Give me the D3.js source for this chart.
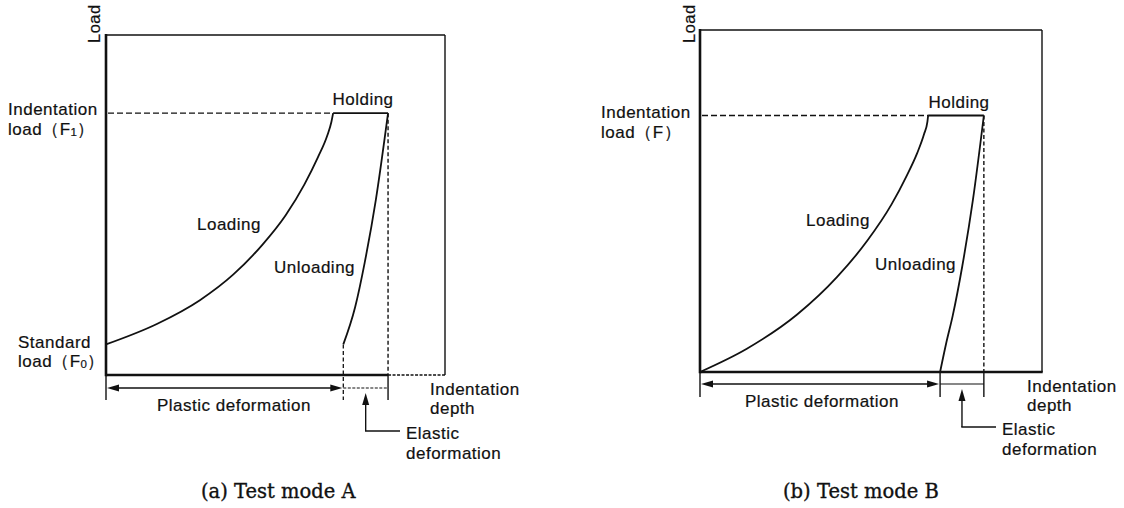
<!DOCTYPE html>
<html>
<head>
<meta charset="utf-8">
<script src="https://cdn.jsdelivr.net/npm/d3@7"></script>
<style>
  html, body { margin: 0; padding: 0; background: #fff; }
  svg { display: block; }
  text { font-family: "Liberation Sans", Arial, Helvetica, sans-serif; fill: #111; }
  .lbl { letter-spacing: 0.5px; stroke: #111; stroke-width: 0.2px; }
  .title { font-family: "DejaVu Serif", "Liberation Serif", serif; stroke: #111; stroke-width: 0.35px; }
</style>
</head>
<body>
<svg id="chart" width="1124" height="508"></svg>
<script>
// Load–depth curves for the two indentation test modes (depth, load), schematic units 0–100
const depthDomain = [0, 100];
const loadDomain = [0, 100];

// Test mode A: starts from a standard (pre-)load F0
const loadingA = [[0, 9], [15, 15], [27.7, 22], [37.5, 29.5], [46.3, 38.5], [53, 47],
                  [58.5, 56], [62.5, 64], [65.3, 70.5], [66.5, 74.5], [67, 77]];
const unloadingA = [[83.2, 77], [79.6, 51.5], [76.3, 33], [73.5, 20], [70, 9]];

// Test mode B: starts from zero load
const loadingB = [[0, 0], [13.7, 6.8], [28.4, 16.8], [40.1, 27.8], [49, 38.5], [56, 49],
                  [60.5, 57.5], [63.5, 64], [65.5, 69.5], [66.5, 73.2], [66.7, 75]];
const unloadingB = [[83, 75], [79.8, 50.3], [76.7, 31], [73.9, 16.5], [72, 8.5], [70.2, 0]];

const panelTitles = ["(a) Test mode A", "(b) Test mode B"];
const indentLoadSubs = ["1", ""];

// Panel layout on the page
const panels = [
  { loading: loadingA, unloading: unloadingA, title: panelTitles[0], sub: indentLoadSubs[0],
    box: { x0: 106, x1: 445, y0: 375, y1: 35 }, modeA: true,
    loadTitle: [100, 43], fLabel: [8, 115, 135], f0Label: [18, 348, 367],
    holding: [363, 105], loadingLbl: [197, 230], unloadingLbl: [274, 273],
    depthLbl: [430, 395, 414], plasticLbl: [234, 411], elasticLbl: [406, 439, 459],
    titlePos: [201, 498], dimY: 388 },
  { loading: loadingB, unloading: unloadingB, title: panelTitles[1], sub: indentLoadSubs[1],
    box: { x0: 700, x1: 1042, y0: 372, y1: 30 }, modeA: false,
    loadTitle: [695, 43], fLabel: [601, 118, 138], f0Label: null,
    holding: [959, 108], loadingLbl: [806, 226], unloadingLbl: [875, 270],
    depthLbl: [1027, 392, 411], plasticLbl: [822, 407], elasticLbl: [1002, 435, 455],
    titlePos: [783, 498], dimY: 384 }
];

const svg = d3.select("#chart");
const FS = 17;

function arrowHead(g, x, y, dir) {
  const L = 12, w = 3.5;
  let pts;
  if (dir === "left") pts = [[x, y], [x + L, y - w], [x + L, y + w]];
  else if (dir === "right") pts = [[x, y], [x - L, y - w], [x - L, y + w]];
  else pts = [[x, y], [x - w, y + L], [x + w, y + L]];
  g.append("path").attr("d", d3.line()(pts) + "Z").attr("fill", "#111").attr("stroke", "none");
}

function seg(g, x1, y1, x2, y2, w, dash) {
  const l = g.append("line").attr("x1", x1).attr("y1", y1).attr("x2", x2).attr("y2", y2)
    .attr("stroke", "#111").attr("stroke-width", w);
  if (dash) l.attr("stroke-dasharray", dash);
  return l;
}

panels.forEach(p => {
  const g = svg.append("g");
  const b = p.box;
  const x = d3.scaleLinear().domain(depthDomain).range([b.x0, b.x1]);
  const y = d3.scaleLinear().domain(loadDomain).range([b.y0, b.y1]);

  const top = p.loading[p.loading.length - 1];       // end of loading
  const hold = p.unloading[0];                        // end of holding
  const rest = p.unloading[p.unloading.length - 1];   // end of unloading
  const xTop = x(top[0]), xMax = x(hold[0]), xRes = x(rest[0]);
  const yF = y(top[1]);

  // frame
  seg(g, b.x0, b.y1, b.x1, b.y1, 1.4);
  seg(g, b.x1, b.y1, b.x1, b.y0, 1.4);
  seg(g, b.x0, b.y1 - 1, b.x0, b.y0 + 1.2, 2.6);
  if (p.modeA) {
    seg(g, b.x0, b.y0, xMax, b.y0, 2.6);
    seg(g, xMax, b.y0, b.x1, b.y0, 1.4, "3,1.5");
  } else {
    seg(g, b.x0, b.y0, b.x1 + 0.7, b.y0, 2.6);
  }

  // indentation load reference line
  seg(g, b.x0 + 2, yF, xTop, yF, 1.3, "6,3");

  // holding segment
  seg(g, xTop, yF, xMax, yF, 1.8);

  // loading / unloading curves (both drawn in order of increasing depth)
  const line = d3.line().x(d => x(d[0])).y(d => y(d[1])).curve(d3.curveMonotoneX);
  const byDepth = arr => arr.slice().sort((a, c) => a[0] - c[0]);
  g.append("path").attr("d", line(byDepth(p.loading))).attr("fill", "none")
    .attr("stroke", "#111").attr("stroke-width", 1.8);
  g.append("path").attr("d", line(byDepth(p.unloading))).attr("fill", "none")
    .attr("stroke", "#111").attr("stroke-width", 1.8);

  // vertical drop from maximum depth
  seg(g, xMax, yF, xMax, b.y0, 1.4, "4,2.5");
  const tickEnd = b.y0 + 25;
  seg(g, xMax, b.y0, xMax, tickEnd, 1.4);
  seg(g, b.x0, b.y0, b.x0, tickEnd, 1.4);
  if (p.modeA) seg(g, xRes, y(rest[1]), xRes, tickEnd, 1.3, "4,2.5");
  else seg(g, xRes, b.y0, xRes, tickEnd, 1.4);

  // dimension lines
  const dy = p.dimY;
  seg(g, b.x0 + 6, dy, xRes - 6, dy, 1.4);
  arrowHead(g, b.x0 + 1, dy, "left");
  arrowHead(g, xRes - 1, dy, "right");
  seg(g, xRes, dy, xMax, dy, 1.2, p.modeA ? "3,1.5" : null);

  // elastic deformation pointer
  const xm = (xRes + xMax) / 2;
  const yCorner = p.elasticLbl[1] - 8;
  arrowHead(g, xm, dy + 5, "up");
  seg(g, xm, dy + 12, xm, yCorner, 1.4);
  seg(g, xm - 0.7, yCorner, p.elasticLbl[0] - 6, yCorner, 1.4);

  // labels
  const txt = (s, tx, ty, anchor) => g.append("text").attr("class", "lbl").attr("x", tx).attr("y", ty)
    .attr("font-size", FS).attr("text-anchor", anchor || "start").text(s);

  g.append("text").attr("class", "lbl")
    .attr("transform", `translate(${p.loadTitle[0]},${p.loadTitle[1]}) rotate(-90)`)
    .attr("font-size", 16.5).text("Load");

  txt("Indentation", p.fLabel[0], p.fLabel[1]);
  const fl = txt("load（F", p.fLabel[0], p.fLabel[2]);
  if (p.sub) {
    fl.append("tspan").attr("font-size", 11.5).attr("dy", 1).text(p.sub);
    fl.append("tspan").attr("dy", -1).text("）");
  } else {
    fl.text("load（F）");
  }

  if (p.f0Label) {
    txt("Standard", p.f0Label[0], p.f0Label[1]);
    const f0 = txt("load（F", p.f0Label[0], p.f0Label[2]);
    f0.append("tspan").attr("font-size", 11.5).attr("dy", 1).text("0");
    f0.append("tspan").attr("dy", -1).text("）");
  }

  txt("Holding", p.holding[0], p.holding[1], "middle");
  txt("Loading", p.loadingLbl[0], p.loadingLbl[1]);
  txt("Unloading", p.unloadingLbl[0], p.unloadingLbl[1]);
  txt("Indentation", p.depthLbl[0], p.depthLbl[1]);
  txt("depth", p.depthLbl[0], p.depthLbl[2]);
  txt("Plastic deformation", p.plasticLbl[0], p.plasticLbl[1], "middle");
  txt("Elastic", p.elasticLbl[0], p.elasticLbl[1]);
  txt("deformation", p.elasticLbl[0], p.elasticLbl[2]);

  g.append("text").attr("class", "title").attr("x", p.titlePos[0]).attr("y", p.titlePos[1])
    .attr("font-size", 19.5).text(p.title);
});
</script>
</body>
</html>
